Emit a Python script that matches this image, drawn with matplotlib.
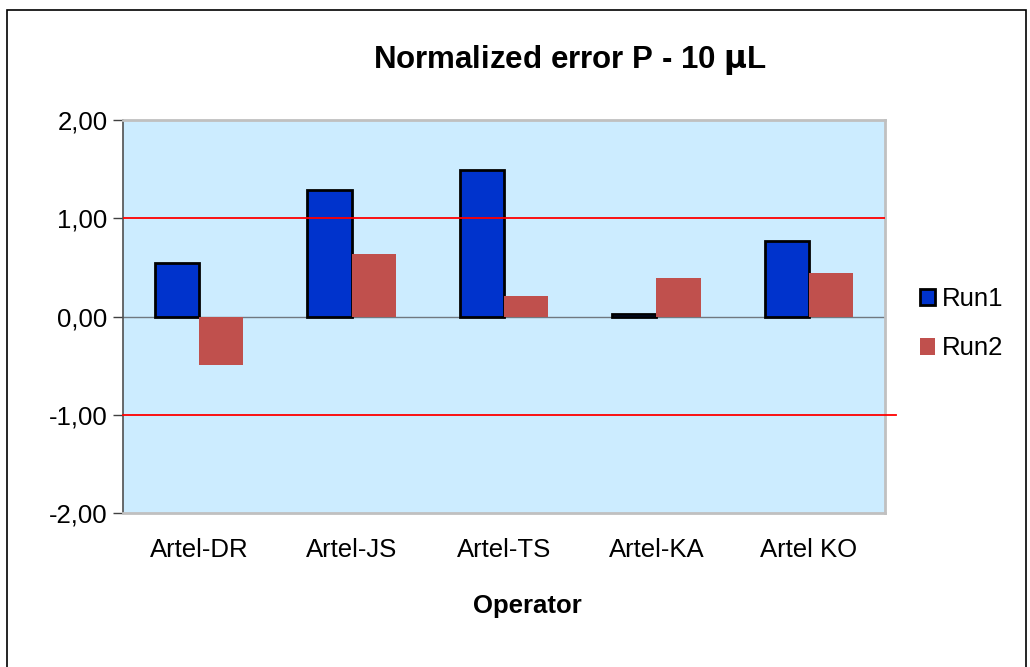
import numpy as np
import matplotlib.pyplot as plt
from matplotlib.patches import Rectangle

plt.rcParams['font.family'] = ['Liberation Sans', 'DejaVu Sans']

# Daten
operators = ['Artel-DR', 'Artel-JS', 'Artel-TS', 'Artel-KA', 'Artel KO']
run1 = [0.54, 1.29, 1.49, 0.03, 0.77]
run2 = [-0.49, 0.64, 0.21, 0.39, 0.44]
yticks = [-2, -1, 0, 1, 2]

fig = plt.figure(figsize=(10.3, 6.67), dpi=100)
ax = fig.add_axes([123/1030, 1 - 513/667, (885-123)/1030, (513-120)/667])

# Rahmen um die ganze Grafik
fig.patches.append(Rectangle((7/1030, -0.1), (1026-7)/1030, 1.1 - 10/667,
                             transform=fig.transFigure, fill=False,
                             edgecolor='black', linewidth=1.2))

x = np.arange(len(operators))
w = 0.29
ax.set_facecolor('#CCECFF')
ax.bar(x - w/2, run1, w, color='#0033CC', edgecolor='black', linewidth=2,
       label='Run1', zorder=3)
ax.bar(x + w/2, run2, w, color='#C0504D', label='Run2', zorder=3)

ax.axhline(0, color='#707880', linewidth=1, zorder=2)
ax.axhline(1, color='red', linewidth=1.3, zorder=4)
ax.axhline(-1, xmax=1.015, color='red', linewidth=1.3, zorder=4, clip_on=False)

ax.set_xlim(-0.5, len(operators) - 0.5)
ax.set_ylim(-2, 2)
ax.set_yticks(yticks)
ax.set_yticklabels([f'{v:.2f}'.replace('.', ',') for v in yticks], fontsize=18.5)
ax.set_xticks(x)
ax.set_xticklabels(operators, fontsize=18.5)
ax.tick_params(axis='x', length=0, pad=18)
ax.tick_params(axis='y', direction='out', length=7, width=1, pad=4, color='#404040')

for s in ['top', 'right', 'bottom']:
    ax.spines[s].set_color('#C0C0C0')
    ax.spines[s].set_linewidth(2)
ax.spines['left'].set_color('#505050')
ax.spines['left'].set_linewidth(1.2)

fig.text(570/1030, 1 - 60/667, 'Normalized error P - 10 $\\mathbf{\\mu}$L',
         ha='center', va='center', fontsize=22.5, fontweight='bold')
ax.set_xlabel('Operator', fontsize=18.5, fontweight='bold')
ax.xaxis.set_label_coords(0.531, -0.205)

ax.legend(loc='center left', bbox_to_anchor=(1.015, 0.482), frameon=False,
          fontsize=18.5, handlelength=0.6, handleheight=0.6, handletextpad=0.25,
          labelspacing=1.0)

fig.savefig('out.png', dpi=100)
